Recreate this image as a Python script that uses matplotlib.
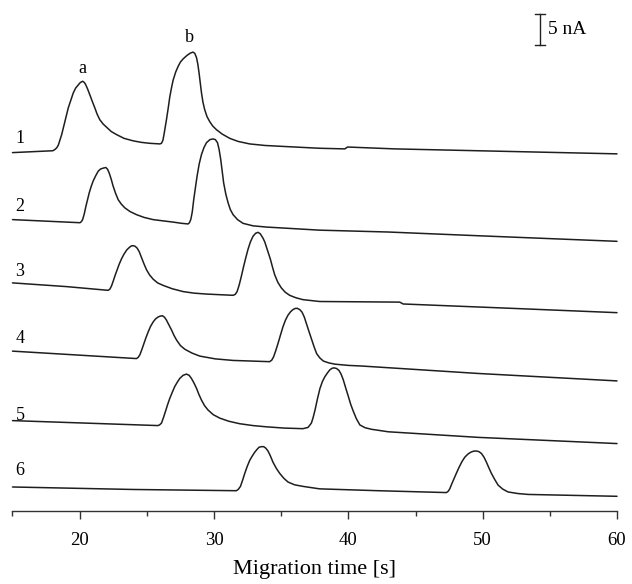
import matplotlib
matplotlib.use("Agg")
import matplotlib.pyplot as plt

plt.rcParams['font.family'] = ['Liberation Serif', 'DejaVu Serif']

# ---- data: migration time [s] and current [nA], relative to each trace's start ----
t1 = [15.0, 18.0, 18.16, 18.3, 18.41, 18.66, 18.9, 19.15, 19.52, 19.7, 19.89, 20.05, 20.22, 20.35,
      20.46, 20.6, 20.76, 20.95, 21.13, 21.3, 21.5, 21.75, 22.0, 22.35, 22.75, 23.3, 23.98, 24.6,
      25.22, 25.97, 26.09, 26.2, 26.3, 26.46, 26.6, 26.71, 26.85, 26.96, 27.15, 27.33, 27.5, 27.7,
      27.9, 28.07, 28.25, 28.44, 28.57, 28.7, 28.8, 28.89, 28.98, 29.07, 29.18, 29.31, 29.48,
      29.68, 29.9, 30.18, 30.6, 31.17, 31.8, 32.66, 33.8, 35.13, 37.86, 39.74, 39.94, 43.46,
      49.66, 60.0]
i1 = [0.0, 0.3, 0.5, 0.8, 1.2, 2.9, 5.0, 7.2, 9.6, 10.4, 10.9, 11.3, 11.5, 11.3,
      10.9, 10.2, 9.3, 8.2, 7.2, 6.2, 5.3, 4.6, 4.1, 3.4, 2.9, 2.3, 1.9, 1.65,
      1.5, 1.4, 1.5, 2.0, 3.2, 5.3, 7.3, 9.0, 10.6, 11.7, 13.0, 13.9, 14.6, 15.1,
      15.5, 15.8, 16.05, 16.2, 16.0, 15.3, 14.2, 12.8, 11.2, 9.6, 8.1, 6.9, 5.8,
      5.0, 4.3, 3.7, 3.0, 2.3, 1.8, 1.4, 1.15, 1.0, 0.7, 0.6, 0.9, 0.6,
      0.3, -0.2]

t2 = [15.0, 20.02, 20.12, 20.22, 20.34, 20.46, 20.71, 20.85, 21.0, 21.2, 21.38, 21.55, 21.75,
      21.95, 22.08, 22.2, 22.35, 22.49, 22.68, 22.87, 23.1, 23.36, 23.75, 24.23, 24.8, 25.47,
      26.2, 26.96, 27.6, 28.07, 28.17, 28.27, 28.38, 28.49, 28.62, 28.74, 28.9, 29.07, 29.25,
      29.44, 29.7, 29.93, 30.1, 30.26, 30.38, 30.5, 30.61, 30.72, 30.88, 31.05, 31.22, 31.42,
      31.75, 32.16, 32.9, 33.9, 37.86, 42.97, 49.66, 60.0]
i2 = [0.0, -0.5, -0.35, 0.0, 0.9, 2.1, 4.3, 5.3, 6.2, 7.1, 7.8, 8.15, 8.3,
      8.4, 8.1, 7.5, 6.5, 5.4, 4.2, 3.2, 2.5, 1.9, 1.3, 0.8, 0.35, 0.0,
      -0.2, -0.4, -0.6, -0.7, -0.5, 0.0, 1.2, 3.2, 5.2, 7.0, 9.0, 10.5, 11.6,
      12.4, 12.9, 13.0, 12.9, 12.4, 11.3, 9.7, 7.8, 5.9, 4.1, 2.7, 1.6, 0.8,
      0.0, -0.6, -1.0, -1.2, -1.7, -2.0, -2.6, -3.5]

t3 = [15.0, 19.03, 22.12, 22.25, 22.37, 22.5, 22.62, 22.94, 23.12, 23.29, 23.5, 23.69, 23.84,
      23.98, 24.13, 24.28, 24.44, 24.6, 24.8, 24.98, 25.2, 25.47, 25.8, 26.21, 26.9, 27.7, 28.5,
      29.44, 30.4, 31.42, 31.58, 31.72, 31.88, 32.04, 32.2, 32.36, 32.53, 32.71, 32.9, 33.1,
      33.28, 33.45, 33.65, 33.78, 33.9, 34.05, 34.2, 34.36, 34.52, 34.75, 35.01, 35.3, 35.63,
      36.1, 36.62, 37.86, 43.83, 44.08, 52.14, 60.0]
i3 = [0.0, -0.6, -1.2, -1.0, -0.5, 0.3, 1.1, 3.0, 3.9, 4.6, 5.3, 5.7, 5.95,
      6.0, 5.9, 5.6, 5.0, 4.1, 3.0, 2.1, 1.3, 0.6, 0.0, -0.4, -0.95, -1.4, -1.65,
      -1.8, -1.9, -2.0, -1.85, -1.4, -0.3, 1.1, 2.6, 4.0, 5.4, 6.6, 7.5, 8.0,
      8.15, 7.9, 7.2, 6.6, 5.8, 4.8, 3.8, 2.5, 1.3, 0.1, -0.8, -1.5, -2.0,
      -2.4, -2.7, -3.0, -3.1, -3.4, -4.1, -4.8]

t4 = [15.0, 24.23, 24.36, 24.48, 24.62, 24.78, 24.94, 25.1, 25.28, 25.47, 25.65, 25.84, 26.0,
      26.17, 26.32, 26.46, 26.65, 26.84, 27.03, 27.21, 27.5, 27.83, 28.35, 28.94, 30.1, 31.42,
      32.8, 34.14, 34.3, 34.44, 34.6, 34.76, 34.95, 35.13, 35.32, 35.51, 35.7, 35.88, 36.04,
      36.2, 36.38, 36.55, 36.72, 36.87, 37.05, 37.25, 37.45, 37.64, 37.88, 38.14, 38.55, 39.0,
      40.0, 40.99, 49.66, 60.0]
i4 = [0.0, -1.2, -1.0, -0.6, 0.2, 1.2, 2.2, 3.1, 4.0, 4.7, 5.2, 5.5, 5.65,
      5.7, 5.45, 5.0, 4.2, 3.4, 2.5, 1.8, 0.9, 0.3, -0.3, -0.8, -1.25, -1.5,
      -1.6, -1.7, -1.45, -0.9, 0.1, 1.2, 2.6, 3.9, 5.0, 5.8, 6.35, 6.7, 6.88,
      6.9, 6.7, 6.3, 5.5, 4.5, 3.3, 2.0, 0.7, -0.4, -1.1, -1.6, -1.9, -2.1,
      -2.3, -2.4, -3.6, -4.8]

t5 = [15.0, 25.84, 25.97, 26.09, 26.24, 26.39, 26.55, 26.71, 26.9, 27.08, 27.27, 27.45, 27.7,
      27.95, 28.15, 28.32, 28.5, 28.7, 28.88, 29.07, 29.3, 29.56, 29.95, 30.43, 31.1, 31.91,
      32.9, 33.9, 35.2, 36.62, 37.0, 37.25, 37.38, 37.52, 37.7, 37.89, 38.07, 38.26, 38.45,
      38.63, 38.8, 38.95, 39.12, 39.3, 39.46, 39.62, 39.8, 40.0, 40.18, 40.37, 40.6, 40.86,
      41.25, 41.73, 42.97, 49.66, 60.0]
i5 = [0.0, -0.8, -0.65, -0.4, 0.5, 1.5, 2.6, 3.6, 4.6, 5.5, 6.2, 6.8, 7.3,
      7.5, 7.3, 6.8, 6.1, 5.2, 4.2, 3.3, 2.4, 1.7, 0.95, 0.4, -0.1, -0.5,
      -0.8, -1.0, -1.2, -1.3, -1.1, -0.4, 0.5, 1.7, 3.5, 5.2, 6.3, 7.1, 7.7,
      8.2, 8.45, 8.5, 8.4, 8.1, 7.5, 6.6, 5.3, 3.9, 2.6, 1.5, 0.3, -0.7,
      -1.15, -1.4, -1.8, -2.7, -3.7]

t6 = [15.0, 23.98, 31.67, 31.82, 31.97, 32.13, 32.29, 32.47, 32.66, 32.85, 33.03, 33.2, 33.35,
      33.52, 33.7, 33.86, 34.02, 34.2, 34.39, 34.64, 34.89, 35.2, 35.51, 36.0, 36.62, 37.86,
      42.23, 47.3, 47.43, 47.55, 47.7, 47.88, 48.06, 48.25, 48.46, 48.67, 48.9, 49.11, 49.33,
      49.54, 49.72, 49.91, 50.1, 50.28, 50.46, 50.65, 50.9, 51.15, 51.5, 51.89, 52.6, 53.38,
      60.0]
i6 = [0.0, -0.4, -0.6, -0.35, 0.1, 1.1, 2.2, 3.3, 4.3, 5.0, 5.6, 6.05, 6.4,
      6.5, 6.5, 6.25, 5.8, 5.0, 4.0, 3.0, 2.2, 1.4, 0.8, 0.35, 0.1, -0.3,
      -0.6, -0.9, -0.7, -0.3, 0.5, 1.4, 2.3, 3.2, 4.1, 4.8, 5.3, 5.6, 5.78,
      5.8, 5.7, 5.4, 4.8, 4.0, 3.1, 2.2, 1.2, 0.3, -0.35, -0.8, -1.05, -1.2,
      -1.5]

trace_labels = ["1", "2", "3", "4", "5", "6"]
peak_labels = ["a", "b"]
xticks = [20, 30, 40, 50, 60]

# ---- layout (vertical offsets of the stacked traces, nA) ----
offsets = [56.0, 45.2, 35.0, 24.0, 12.8, 2.1]
label_dy = [2.2, 2.1, 1.9, 2.0, 0.9, 2.6]

fig = plt.figure(figsize=(6.32, 5.84), dpi=100)
ax = fig.add_axes([12.5 / 632, 73 / 584, (617 - 12.5) / 632, 511 / 584])

times = [t1, t2, t3, t4, t5, t6]
currents = [i1, i2, i3, i4, i5, i6]
for t, c, off in zip(times, currents, offsets):
    ax.plot(t, [v + off for v in c], color='#1e1e1e', lw=1.1, solid_joinstyle='round',
            solid_capstyle='round', antialiased=True, clip_on=False)

for lab, off, dy in zip(trace_labels, offsets, label_dy):
    ax.text(15.55, off + dy, lab, fontsize=13, ha='center', va='center')

ax.text(20.2, 69.5, peak_labels[0], fontsize=13, ha='center', va='center')
ax.text(28.2, 74.5, peak_labels[1], fontsize=13, ha='center', va='center')

# scale bar 5 nA
xb, yb0, yb1, cap = 54.29, 73.4, 78.4, 0.37
ax.plot([xb, xb], [yb0, yb1], color='#222222', lw=1.0)
ax.plot([xb - cap, xb + cap], [yb0, yb0], color='#222222', lw=1.0)
ax.plot([xb - cap, xb + cap], [yb1, yb1], color='#222222', lw=1.0)
ax.text(54.85, 75.9, "5 nA", fontsize=14, ha='left', va='center')

ax.set_xlim(15, 60)
ax.set_ylim(-1.77, 80.6)
for s in ['left', 'right', 'top']:
    ax.spines[s].set_visible(False)
ax.spines['bottom'].set_linewidth(1.0)
ax.spines['bottom'].set_color('#333333')
ax.set_yticks([])
ax.set_xticks(xticks)
ax.set_xticks([15, 25, 35, 45, 55], minor=True)
ax.tick_params(axis='x', which='major', length=6, width=1.0, direction='out', pad=9,
               labelsize=13.5, color='#333333')
ax.tick_params(axis='x', which='minor', length=3.5, width=1.0, direction='out', color='#333333')
ax.set_xlabel("Migration time [s]", fontsize=16, labelpad=8)
ax.patch.set_visible(False)

fig.savefig("out.png", dpi=100)
